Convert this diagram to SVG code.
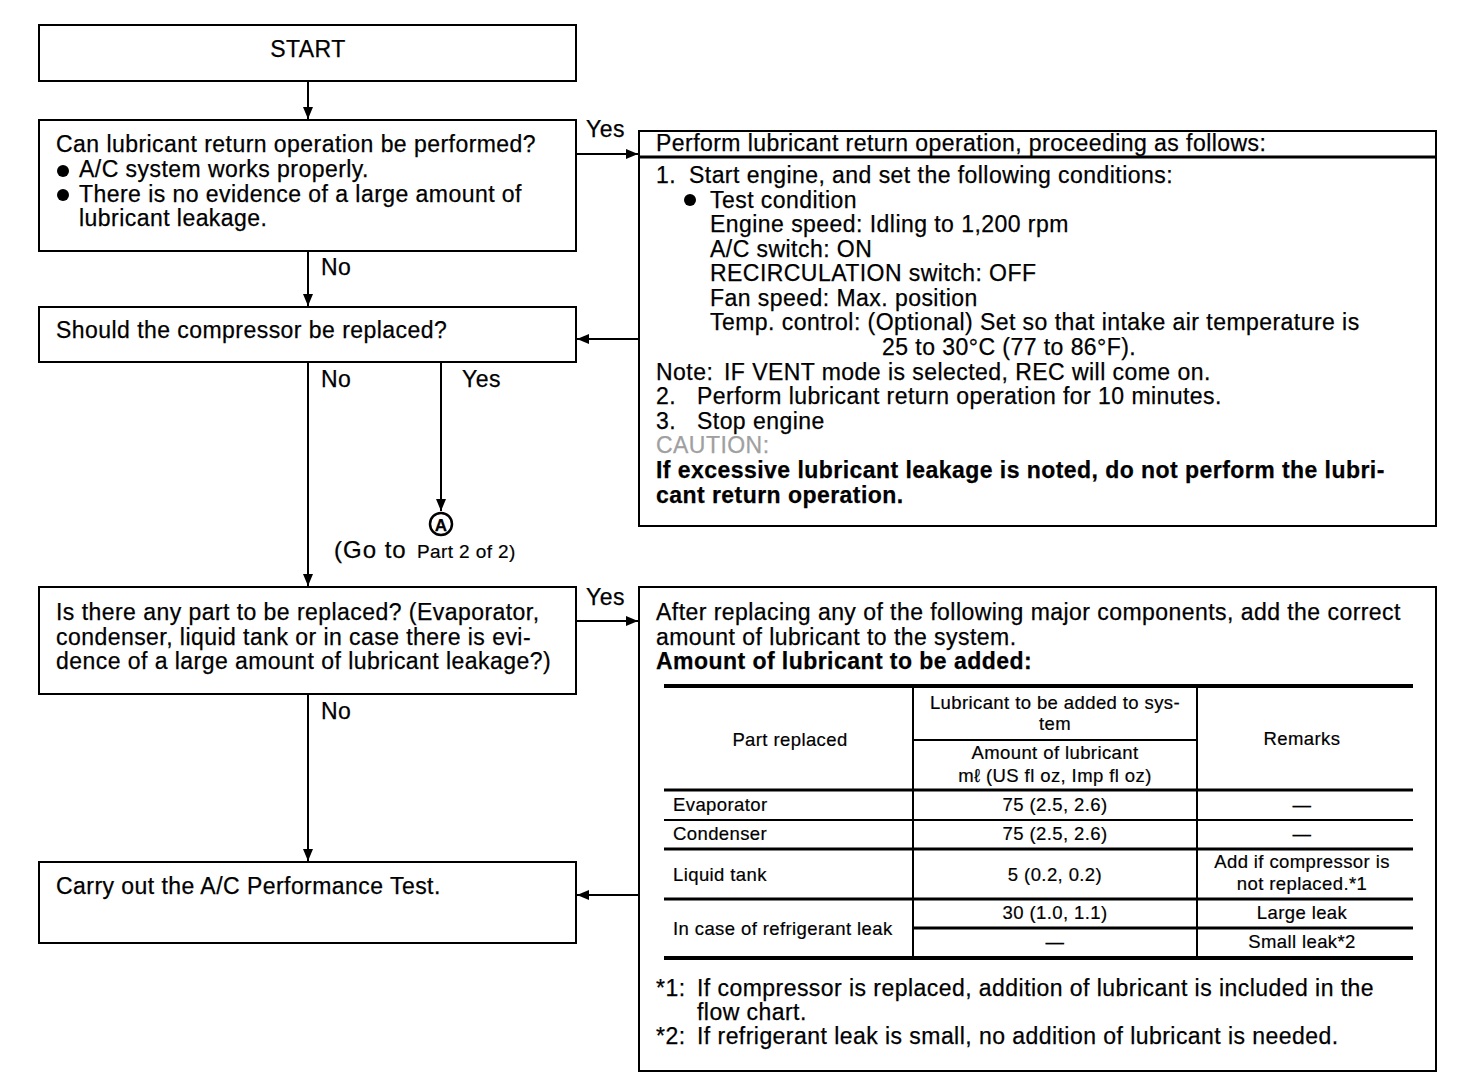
<svg xmlns="http://www.w3.org/2000/svg" width="1472" height="1090" viewBox="0 0 1472 1090">
<defs>
<style>
.box{fill:#fff;stroke:#000;stroke-width:2}
.t{font-family:"Liberation Sans",Arial,sans-serif;font-size:23px;letter-spacing:0.45px;fill:#000;stroke:#000;stroke-width:0.25}
.s{font-family:"Liberation Sans",Arial,sans-serif;font-size:18.5px;letter-spacing:0.4px;fill:#000;stroke:#000;stroke-width:0.2}
.b{font-weight:bold}
.c{text-anchor:middle}
.ln{stroke:#000;stroke-width:2;fill:none}
.thk{stroke:#000;stroke-width:4;fill:none}
.tl{stroke:#000;stroke-width:2;fill:none}
</style>
<marker id="ah" viewBox="0 0 12 12" refX="12" refY="6" markerWidth="12" markerHeight="12" markerUnits="userSpaceOnUse" orient="auto">
<path d="M0,1 L12,6 L0,11 Z" fill="#000"/>
</marker>
</defs>
<rect width="1472" height="1090" fill="#fff"/>

<g id="connectors">
<line class="ln" x1="308" y1="81" x2="308" y2="119" marker-end="url(#ah)"/>
<line class="ln" x1="576" y1="154" x2="638" y2="154" marker-end="url(#ah)"/>
<text class="t" x="586" y="137">Yes</text>
<line class="ln" x1="308" y1="251" x2="308" y2="306" marker-end="url(#ah)"/>
<text class="t" x="321" y="275">No</text>
<line class="ln" x1="639" y1="339" x2="577" y2="339" marker-end="url(#ah)"/>
<line class="ln" x1="308" y1="362" x2="308" y2="586" marker-end="url(#ah)"/>
<text class="t" x="321" y="387">No</text>
<line class="ln" x1="441" y1="362" x2="441" y2="511" marker-end="url(#ah)"/>
<text class="t" x="462" y="387">Yes</text>
<line class="ln" x1="576" y1="621" x2="638" y2="621" marker-end="url(#ah)"/>
<text class="t" x="586" y="605">Yes</text>
<line class="ln" x1="308" y1="694" x2="308" y2="861" marker-end="url(#ah)"/>
<text class="t" x="321" y="719">No</text>
<line class="ln" x1="639" y1="895" x2="577" y2="895" marker-end="url(#ah)"/>
</g>

<g id="start">
<rect class="box" x="39" y="25" width="537" height="56"/>
<text class="t c" x="308" y="57">START</text>
</g>

<g id="q-return">
<rect class="box" x="39" y="120" width="537" height="131"/>
<text class="t" x="56" y="152">Can lubricant return operation be performed?</text>
<circle cx="63" cy="171" r="6"/>
<text class="t" x="79" y="177">A/C system works properly.</text>
<circle cx="63" cy="195" r="6"/>
<text class="t" x="79" y="202">There is no evidence of a large amount of</text>
<text class="t" x="79" y="226">lubricant leakage.</text>
</g>

<g id="return-op">
<rect class="box" x="639" y="131" width="797" height="395"/>
<line class="thk" x1="639" y1="157" x2="1436" y2="157" style="stroke-width:3"/>
<text class="t" x="656" y="151">Perform lubricant return operation, proceeding as follows:</text>
<text class="t" x="656" y="183">1.</text>
<text class="t" x="689" y="183">Start engine, and set the following conditions:</text>
<circle cx="690" cy="200" r="6"/>
<text class="t" x="710" y="208">Test condition</text>
<text class="t" x="710" y="232">Engine speed: Idling to 1,200 rpm</text>
<text class="t" x="710" y="257">A/C switch: ON</text>
<text class="t" x="710" y="281">RECIRCULATION switch: OFF</text>
<text class="t" x="710" y="306">Fan speed: Max. position</text>
<text class="t" x="710" y="330">Temp. control: (Optional) Set so that intake air temperature is</text>
<text class="t" x="882" y="355">25 to 30°C (77 to 86°F).</text>
<text class="t" x="656" y="380">Note:</text>
<text class="t" x="724" y="380">IF VENT mode is selected, REC will come on.</text>
<text class="t" x="656" y="404">2.</text>
<text class="t" x="697" y="404">Perform lubricant return operation for 10 minutes.</text>
<text class="t" x="656" y="429">3.</text>
<text class="t" x="697" y="429">Stop engine</text>
<text class="t" x="656" y="453" style="fill:#a0a0a0;stroke:#a0a0a0">CAUTION:</text>
<text class="t b" x="656" y="478">If excessive lubricant leakage is noted, do not perform the lubri-</text>
<text class="t b" x="656" y="503">cant return operation.</text>
</g>

<g id="q-compressor">
<rect class="box" x="39" y="307" width="537" height="55"/>
<text class="t" x="56" y="338">Should the compressor be replaced?</text>
</g>

<g id="goto-a">
<circle cx="441" cy="524" r="11" fill="#fff" stroke="#000" stroke-width="2.5"/>
<text class="t b c" x="441" y="531" style="font-size:17px;letter-spacing:0">A</text>
<text class="t" x="334" y="558" style="font-size:24px;letter-spacing:1px">(Go to</text>
<text class="s" x="417" y="558" style="font-size:19px">Part 2 of 2)</text>
</g>

<g id="q-parts">
<rect class="box" x="39" y="587" width="537" height="107"/>
<text class="t" x="56" y="620">Is there any part to be replaced? (Evaporator,</text>
<text class="t" x="56" y="645">condenser, liquid tank or in case there is evi-</text>
<text class="t" x="56" y="669">dence of a large amount of lubricant leakage?)</text>
</g>

<g id="perf-test">
<rect class="box" x="39" y="862" width="537" height="81"/>
<text class="t" x="56" y="894">Carry out the A/C Performance Test.</text>
</g>

<g id="add-lubricant">
<rect class="box" x="639" y="587" width="797" height="484"/>
<text class="t" x="656" y="620">After replacing any of the following major components, add the correct</text>
<text class="t" x="656" y="645">amount of lubricant to the system.</text>
<text class="t b" x="656" y="669">Amount of lubricant to be added:</text>
<g id="table">
<line class="thk" x1="664" y1="686" x2="1413" y2="686"/>
<line class="tl" x1="913" y1="740" x2="1197" y2="740"/>
<line class="thk" x1="664" y1="790" x2="1413" y2="790" style="stroke-width:3"/>
<line class="tl" x1="664" y1="820" x2="1413" y2="820"/>
<line class="thk" x1="664" y1="849" x2="1413" y2="849" style="stroke-width:3"/>
<line class="thk" x1="664" y1="899" x2="1413" y2="899" style="stroke-width:3"/>
<line class="thk" x1="913" y1="928" x2="1413" y2="928" style="stroke-width:3"/>
<line class="thk" x1="664" y1="958" x2="1413" y2="958"/>
<line class="tl" x1="913" y1="686" x2="913" y2="958"/>
<line class="tl" x1="1197" y1="686" x2="1197" y2="958"/>
<text class="s c" x="790" y="746">Part replaced</text>
<text class="s c" x="1055" y="709">Lubricant to be added to sys-</text>
<text class="s c" x="1055" y="730">tem</text>
<text class="s c" x="1055" y="759">Amount of lubricant</text>
<text class="s c" x="1055" y="782">mℓ (US fl oz, Imp fl oz)</text>
<text class="s c" x="1302" y="745">Remarks</text>
<text class="s" x="673" y="811">Evaporator</text>
<text class="s c" x="1055" y="811">75 (2.5, 2.6)</text>
<text class="s c" x="1302" y="811">—</text>
<text class="s" x="673" y="840">Condenser</text>
<text class="s c" x="1055" y="840">75 (2.5, 2.6)</text>
<text class="s c" x="1302" y="840">—</text>
<text class="s" x="673" y="881">Liquid tank</text>
<text class="s c" x="1055" y="881">5 (0.2, 0.2)</text>
<text class="s c" x="1302" y="868">Add if compressor is</text>
<text class="s c" x="1302" y="890">not replaced.*1</text>
<text class="s" x="673" y="935">In case of refrigerant leak</text>
<text class="s c" x="1055" y="919">30 (1.0, 1.1)</text>
<text class="s c" x="1302" y="919">Large leak</text>
<text class="s c" x="1055" y="948">—</text>
<text class="s c" x="1302" y="948">Small leak*2</text>
</g>
<text class="t" x="656" y="996">*1:</text>
<text class="t" x="697" y="996">If compressor is replaced, addition of lubricant is included in the</text>
<text class="t" x="697" y="1020">flow chart.</text>
<text class="t" x="656" y="1044">*2:</text>
<text class="t" x="697" y="1044">If refrigerant leak is small, no addition of lubricant is needed.</text>
</g>
</svg>
